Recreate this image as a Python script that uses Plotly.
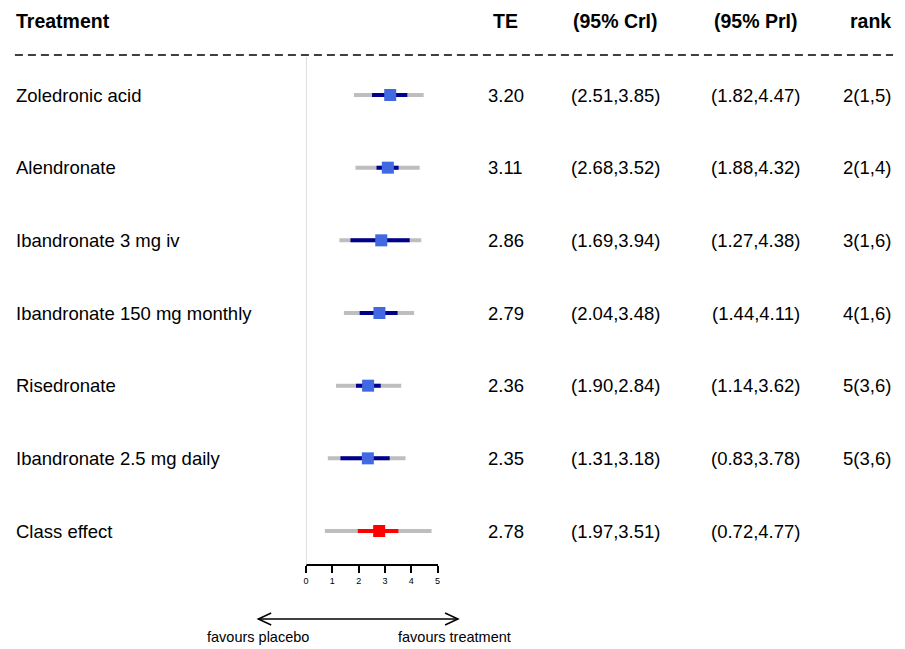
import plotly.graph_objects as go

# ---- data ----
treatments = ["Zoledronic acid", "Alendronate", "Ibandronate 3 mg iv",
              "Ibandronate 150 mg monthly", "Risedronate",
              "Ibandronate 2.5 mg daily", "Class effect"]
te = [3.20, 3.11, 2.86, 2.79, 2.36, 2.35, 2.78]
cri_lo = [2.51, 2.68, 1.69, 2.04, 1.90, 1.31, 1.97]
cri_hi = [3.85, 3.52, 3.94, 3.48, 2.84, 3.18, 3.51]
pri_lo = [1.82, 1.88, 1.27, 1.44, 1.14, 0.83, 0.72]
pri_hi = [4.47, 4.32, 4.38, 4.11, 3.62, 3.78, 4.77]
ranks = ["2(1,5)", "2(1,4)", "3(1,6)", "4(1,6)", "5(3,6)", "5(3,6)", ""]
headers = ["Treatment", "TE", "(95% CrI)", "(95% PrI)", "rank"]
axis_ticks = [0, 1, 2, 3, 4, 5]

W, H = 905, 649
FONT = "Liberation Sans, Arial, sans-serif"

# pixel helpers for layout placement
def px(x):
    return x / W

def py(y):
    return 1 - y / H

row0_px, row_step = 95, 72.67
y_top = -row0_px / row_step
y_bot = (H - row0_px) / row_step

fig = go.Figure()

n = len(treatments)
for i in range(n):
    is_class = treatments[i] == "Class effect"
    main_col = "#FF0000" if is_class else "#00008B"
    sq_col = "#FF0000" if is_class else "#4169E1"
    fig.add_trace(go.Scatter(x=[pri_lo[i], pri_hi[i]], y=[i, i], mode="lines",
                             line=dict(color="#BEBEBE", width=4),
                             xaxis="x2", yaxis="y", showlegend=False,
                             hoverinfo="skip", cliponaxis=False))
    fig.add_trace(go.Scatter(x=[cri_lo[i], cri_hi[i]], y=[i, i], mode="lines",
                             line=dict(color=main_col, width=4),
                             xaxis="x2", yaxis="y", showlegend=False,
                             hoverinfo="skip", cliponaxis=False))
    fig.add_trace(go.Scatter(x=[te[i]], y=[i], mode="markers",
                             marker=dict(symbol="square", size=12, color=sq_col,
                                         line=dict(width=0)),
                             xaxis="x2", yaxis="y", showlegend=False,
                             cliponaxis=False))

annotations = []
shapes = []

# column positions
col_x = {"name": 11, "te": 506, "cri": 617, "pri": 758, "rank": 870}
header_y = (21 - row0_px) / row_step

def txt(x, y, s, anchor="center", bold=False, size=18.5):
    annotations.append(dict(x=px(x), y=y, xref="paper", yref="y", text=(f"<b>{s}</b>" if bold else s),
                            showarrow=False, xanchor=anchor, yanchor="middle",
                            font=dict(family=FONT, size=size, color="black")))

HS = 19.5
txt(col_x["name"], header_y, headers[0], anchor="left", bold=True, size=HS)
txt(col_x["te"], header_y, headers[1], bold=True, size=HS)
txt(col_x["cri"], header_y, headers[2], bold=True, size=HS)
txt(col_x["pri"], header_y, headers[3], bold=True, size=HS)
txt(col_x["rank"] + 3, header_y, headers[4], bold=True, size=HS)

for i in range(n):
    txt(col_x["name"], i, treatments[i], anchor="left")
    txt(col_x["te"], i, f"{te[i]:.2f}")
    txt(col_x["cri"], i, f"({cri_lo[i]:.2f},{cri_hi[i]:.2f})")
    txt(col_x["pri"], i, f"({pri_lo[i]:.2f},{pri_hi[i]:.2f})")
    if ranks[i]:
        txt(col_x["rank"], i, ranks[i])

# dashed separator
shapes.append(dict(type="line", xref="paper", yref="paper", x0=px(12), x1=px(896),
                   y0=py(55), y1=py(55), line=dict(color="black", width=1.5, dash="8px,5px")))
# null line at 0
shapes.append(dict(type="line", xref="x2", yref="paper", x0=0, x1=0,
                   y0=py(565), y1=py(57), line=dict(color="#C8C8C8", width=1.2)))
# arrow
ay = 619
ax0, ax1 = 257, 458
shapes.append(dict(type="line", xref="paper", yref="paper", x0=px(ax0), x1=px(ax1),
                   y0=py(ay), y1=py(ay), line=dict(color="black", width=1.5)))
for tip, d in [(ax0, 1), (ax1, -1)]:
    shapes.append(dict(type="path", xref="paper", yref="paper",
                       path=f"M {px(tip + 13*d)},{py(ay-6)} L {px(tip)},{py(ay)} L {px(tip + 13*d)},{py(ay+6)}",
                       line=dict(color="black", width=1.5)))
annotations.append(dict(x=px(ax0), y=py(637), xref="paper", yref="paper", text="favours placebo",
                        showarrow=False, xanchor="center", yanchor="middle",
                        font=dict(family=FONT, size=14.5, color="black")))
annotations.append(dict(x=px(ax1 - 3), y=py(637), xref="paper", yref="paper", text="favours treatment",
                        showarrow=False, xanchor="center", yanchor="middle",
                        font=dict(family=FONT, size=14.5, color="black")))

fig.update_layout(
    width=W, height=H, autosize=False,
    margin=dict(l=0, r=0, t=0, b=0),
    paper_bgcolor="white", plot_bgcolor="white",
    xaxis=dict(visible=False, domain=[0, 1], range=[0, 1]),
    xaxis2=dict(domain=[px(305), px(437.5)], range=[0, 5], anchor="free",
                position=py(565), showgrid=False, zeroline=False,
                showline=True, linecolor="black", linewidth=2,
                ticks="outside", ticklen=7, tickwidth=1.5, tickcolor="black",
                tickvals=axis_ticks, ticktext=[str(t) for t in axis_ticks],
                tickfont=dict(family=FONT, size=9, color="black")),
    yaxis=dict(visible=False, domain=[0, 1], range=[y_bot, y_top]),
    shapes=shapes, annotations=annotations,
)

fig.write_html("out.html", config={"displayModeBar": False},
               post_script="document.body.style.margin='0px';document.body.style.overflow='hidden';")
